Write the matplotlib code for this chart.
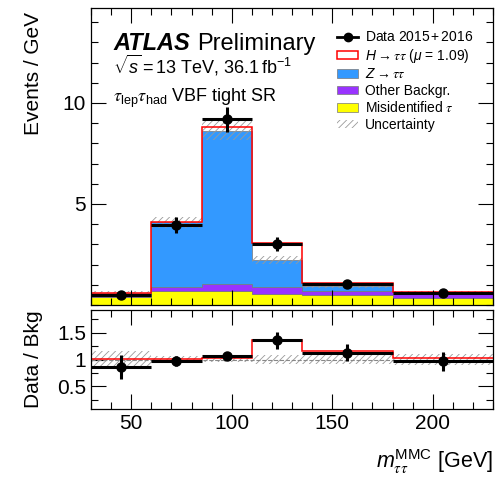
import matplotlib
matplotlib.use("Agg")
import matplotlib.pyplot as plt
import numpy as np
from matplotlib.patches import Patch
from matplotlib.lines import Line2D
from matplotlib.ticker import MultipleLocator, FormatStrFormatter

plt.rcParams['font.family'] = ['Liberation Sans', 'DejaVu Sans']
plt.rcParams['mathtext.fontset'] = 'custom'
plt.rcParams['mathtext.rm'] = 'Liberation Sans'
plt.rcParams['mathtext.it'] = 'Liberation Sans:italic'
plt.rcParams['mathtext.bf'] = 'Liberation Sans:bold'
plt.rcParams['mathtext.cal'] = 'STIXGeneral:italic'
plt.rcParams['hatch.linewidth'] = 0.6

# bin edges in GeV
edges = np.array([30, 60, 85, 110, 135, 180, 230])

# events / GeV per bin
fake = np.array([0.38, 0.71, 0.71, 0.54, 0.50, 0.33])
other = np.array([0.08, 0.20, 0.33, 0.37, 0.21, 0.25])
ztt = np.array([0.12, 3.18, 7.59, 1.32, 0.23, 0.05])
signal = np.array([0.005, 0.03, 0.20, 0.82, 0.15, 0.013])
rel_unc = np.array([0.16, 0.07, 0.055, 0.08, 0.09, 0.11])

data = np.array([0.50, 3.96, 9.19, 3.02, 1.06, 0.61])
data_err = np.array([0.13, 0.40, 0.61, 0.35, 0.15, 0.11])

c_z = '#3399ff'
c_oth = '#9933ff'
c_fake = '#ffff00'
TAU = r'\mathcal{\tau}'

centers = 0.5 * (edges[1:] + edges[:-1])
halfw = 0.5 * (edges[1:] - edges[:-1])
b1 = fake
b2 = fake + other
bkg = b2 + ztt
tot = bkg + signal

fig = plt.figure(figsize=(4.96, 4.80), dpi=100)
ax = fig.add_axes([0.1835, 0.3646, 0.8105, 0.6187])
ax2 = fig.add_axes([0.1835, 0.148, 0.8105, 0.206])

# stack
ax.stairs(fake, edges, baseline=0, fill=True, facecolor=c_fake, edgecolor='#777777', lw=0.5)
ax.stairs(b2, edges, baseline=b1, fill=True, facecolor=c_oth, edgecolor='#777777', lw=0.5)
ax.stairs(bkg, edges, baseline=b2, fill=True, facecolor=c_z, edgecolor='#777777', lw=0.5)
ax.stairs(bkg * (1 + rel_unc), edges, baseline=bkg * (1 - rel_unc), fill=True,
          facecolor='none', edgecolor='#999999', hatch='/////', lw=0)
ax.stairs(tot, edges, baseline=None, color='red', lw=1.1)
ax.errorbar(centers, data, xerr=halfw, yerr=data_err, fmt='o', color='k',
            ms=6.5, lw=2.2, capsize=0)

ax.set_xlim(30, 230)
ax.set_ylim(0, 14.7)
ax.set_yticks([5, 10])
ax.yaxis.set_minor_locator(MultipleLocator(1))
ax.xaxis.set_major_locator(MultipleLocator(50))
ax.xaxis.set_minor_locator(MultipleLocator(10))
ax.tick_params(labelbottom=False)
ax.set_ylabel('Events / GeV', fontsize=15, loc='top')

ax.text(0.055, 0.86, 'ATLAS', transform=ax.transAxes, fontsize=17, fontweight='bold',
        style='italic')
ax.text(0.265, 0.86, 'Preliminary', transform=ax.transAxes, fontsize=17)
ax.text(0.055, 0.78, r'$\sqrt{s}$$\,$=$\,$13 TeV, 36.1$\,$fb$^{-1}$', transform=ax.transAxes,
        fontsize=13)
ax.text(0.055, 0.682, r'$%s_{\rm lep}%s_{\rm had}$ VBF tight SR' % (TAU, TAU),
        transform=ax.transAxes, fontsize=13)

handles = [
    Line2D([], [], color='k', marker='o', ms=6, lw=2),
    Patch(facecolor='white', edgecolor='red', lw=1.1),
    Patch(facecolor=c_z, edgecolor='#777777', lw=0.5),
    Patch(facecolor=c_oth, edgecolor='#777777', lw=0.5),
    Patch(facecolor=c_fake, edgecolor='#777777', lw=0.5),
    Patch(facecolor='none', edgecolor='#999999', hatch='/////', lw=0),
]
labels = [
    r'Data 2015$\,$+$\,$2016',
    r'$H \rightarrow %s%s$ ($\mu$ = 1.09)' % (TAU, TAU),
    r'$Z \rightarrow %s%s$' % (TAU, TAU),
    'Other Backgr.',
    r'Misidentified $%s$' % TAU,
    'Uncertainty',
]
ax.legend(handles, labels, loc='upper left', bbox_to_anchor=(0.595, 0.948), frameon=False,
          fontsize=10, handlelength=1.5, handleheight=0.6, handletextpad=0.5,
          labelspacing=0.18, borderpad=0)

# ratio panel
rd = data / bkg
rd_err = data_err / bkg
ax2.stairs(1 + rel_unc, edges, baseline=1 - rel_unc, fill=True,
           facecolor='none', edgecolor='#999999', hatch='/////', lw=0)
ax2.axhline(1, ls='--', color='#888888', lw=0.8)
ax2.stairs(tot / bkg, edges, baseline=None, color='red', lw=1.1)
ax2.errorbar(centers, rd, xerr=halfw, yerr=rd_err, fmt='o', color='k',
             ms=6.5, lw=2.2, capsize=0)
ax2.set_xlim(30, 230)
ax2.set_ylim(0.08, 1.92)
ax2.set_yticks([0.5, 1, 1.5])
ax2.yaxis.set_major_formatter(FormatStrFormatter('%g'))
ax2.yaxis.set_minor_locator(MultipleLocator(0.25))
ax2.xaxis.set_major_locator(MultipleLocator(50))
ax2.xaxis.set_minor_locator(MultipleLocator(10))
ax2.set_ylabel('Data / Bkg', fontsize=15)
ax2.set_xlabel(r'$m_{%s%s}^{\rm MMC}$ [GeV]' % (TAU, TAU), fontsize=15.5, loc='right',
               labelpad=10)

for a in (ax, ax2):
    a.tick_params(which='both', direction='in', top=True, right=True, labelsize=15)
    a.tick_params(which='major', length=10.5, width=0.8)
    a.tick_params(which='minor', length=5, width=0.8)
    for s in a.spines.values():
        s.set_linewidth(0.9)
ax.yaxis.set_label_coords(-0.12, 0.985)
ax2.yaxis.set_label_coords(-0.12, 0.5)

fig.savefig('out.png', dpi=100)
